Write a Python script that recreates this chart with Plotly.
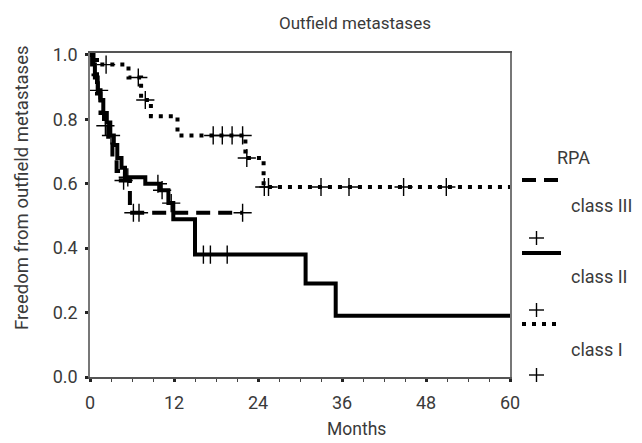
import plotly.graph_objects as go

# ---- data ----
# RPA class III (dashed)
t3 = [0, 0.5, 1.0, 1.5, 2.0, 2.6, 3.2, 3.8, 4.4, 5.7, 21.8]
s3 = [1.0, 0.94, 0.88, 0.82, 0.78, 0.73, 0.68, 0.64, 0.61, 0.51, 0.51]
t3_cens = [2.2, 4.8, 6.2, 7.0, 21.8]
s3_cens = [0.78, 0.61, 0.51, 0.51, 0.51]

# RPA class II (solid)
t2 = [0, 0.3, 0.7, 1.1, 1.5, 1.9, 2.4, 2.9, 3.4, 3.9, 4.5, 5.0, 7.9, 10.0, 11.2, 11.9, 15.0, 30.8, 35.1, 60]
s2 = [1.0, 0.97, 0.93, 0.89, 0.86, 0.82, 0.79, 0.75, 0.72, 0.68, 0.65, 0.62, 0.60, 0.58, 0.54, 0.49, 0.38, 0.29, 0.19, 0.19]
t2_cens = [1.3, 3.0, 5.4, 9.7, 10.3, 11.6, 16.2, 17.2, 19.6]
s2_cens = [0.89, 0.75, 0.62, 0.60, 0.58, 0.54, 0.38, 0.38, 0.38]

# RPA class I (dotted)
t1 = [0, 1.0, 5.5, 7.3, 8.7, 12.5, 22.2, 24.8, 60]
s1 = [1.0, 0.97, 0.93, 0.86, 0.81, 0.75, 0.68, 0.59, 0.59]
t1_cens = [2.3, 6.9, 7.9, 17.6, 18.9, 20.3, 21.8, 22.4, 24.9, 25.5, 33.0, 37.0, 44.8, 50.9]
s1_cens = [0.97, 0.93, 0.86, 0.75, 0.75, 0.75, 0.75, 0.68, 0.59, 0.59, 0.59, 0.59, 0.59, 0.59]

x_ticks = [0, 12, 24, 36, 48, 60]
y_ticks = [0.0, 0.2, 0.4, 0.6, 0.8, 1.0]

legend_labels = ["class III", "class II", "class I"]

FONT = "Roboto"
TXT = "#3a3a3a"

fig = go.Figure()

cross = dict(symbol="cross-thin", size=13, color="black", line=dict(width=1.4, color="black"))

for t, s, dash in [(t3, s3, "14px,8px"), (t2, s2, "solid"), (t1, s1, "4px,6px")]:
    fig.add_trace(go.Scatter(x=t, y=s, mode="lines", line=dict(color="black", width=4, dash=dash, shape="hv"),
                             showlegend=False, cliponaxis=False, hoverinfo="skip"))
for t, s in [(t3_cens, s3_cens), (t2_cens, s2_cens), (t1_cens, s1_cens)]:
    fig.add_trace(go.Scatter(x=t, y=s, mode="markers", marker=cross, showlegend=False, cliponaxis=False))

# plot area in pixels
L, R, T, B = 90, 510, 53, 377
W, H = 642, 443


def px(x):
    return (x - L) / (R - L)


def py(y):
    return (B - y) / (B - T)


shapes = []
annots = []
# legend lines
leg_y = [180, 253, 324]
leg_dash = ["14px,8px", "solid", "4px,6px"]
text_y = [205, 276, 349]
plus_y = [238, 310, 375]
for ly, d in zip(leg_y, leg_dash):
    shapes.append(dict(type="line", xref="paper", yref="paper", x0=px(522), x1=px(561), y0=py(ly), y1=py(ly),
                       line=dict(color="black", width=4, dash=d)))
for lab, ty in zip(legend_labels, text_y):
    annots.append(dict(text=lab, xref="paper", yref="paper", x=px(569), y=py(ty), xanchor="left", yanchor="middle",
                       showarrow=False, font=dict(family=FONT, size=18, color=TXT)))
for pyy in plus_y:
    shapes.append(dict(type="line", xref="paper", yref="paper", x0=px(529), x1=px(544), y0=py(pyy), y1=py(pyy),
                       line=dict(color="black", width=1.4)))
    shapes.append(dict(type="line", xref="paper", yref="paper", x0=px(536.5), x1=px(536.5), y0=py(pyy - 7), y1=py(pyy + 7),
                       line=dict(color="black", width=1.4)))
annots.append(dict(text="RPA", xref="paper", yref="paper", x=px(555), y=py(157), xanchor="left", yanchor="middle",
                   showarrow=False, font=dict(family=FONT, size=18, color=TXT)))
# axis titles
annots.append(dict(text="Months", xref="paper", yref="paper", x=px(356), y=py(441), xanchor="center", yanchor="bottom",
                   showarrow=False, font=dict(family=FONT, size=17.5, color=TXT)))
annots.append(dict(text="Freedom from outfield metastases", xref="paper", yref="paper", x=px(22), y=py(188),
                   xanchor="center", yanchor="middle", textangle=-90,
                   showarrow=False, font=dict(family=FONT, size=18.5, color=TXT)))

fig.update_layout(
    width=W, height=H,
    margin=dict(l=L, r=W - R, t=T, b=H - B),
    plot_bgcolor="white", paper_bgcolor="white",
    title=dict(text="Outfield metastases", x=px(355), xref="paper", xanchor="center", y=1 - 23 / H, yanchor="middle",
               font=dict(family=FONT, size=17, color=TXT)),
    shapes=shapes, annotations=annots,
    font=dict(family=FONT, color=TXT),
)
fig.update_xaxes(range=[0, 60], tickvals=x_ticks, ticks="outside", ticklen=3, tickwidth=3, tickcolor="#222",
                 minor=dict(dtick=3, ticks="outside", ticklen=3, tickwidth=1, tickcolor="#444"),
                 showgrid=False, zeroline=False, showline=True, linecolor="#555", linewidth=1.5, mirror=True,
                 tickfont=dict(family=FONT, size=18, color=TXT), ticklabelstandoff=6)
fig.update_yaxes(range=[0, 1.006], tickvals=y_ticks, tickformat=".1f", ticks="outside", ticklen=3, tickwidth=3,
                 tickcolor="#222", showgrid=False, zeroline=False, showline=True, linecolor="#777", linewidth=1.5,
                 mirror=True, tickfont=dict(family=FONT, size=18, color=TXT), ticklabelstandoff=4)

fig.write_html("out.html")
